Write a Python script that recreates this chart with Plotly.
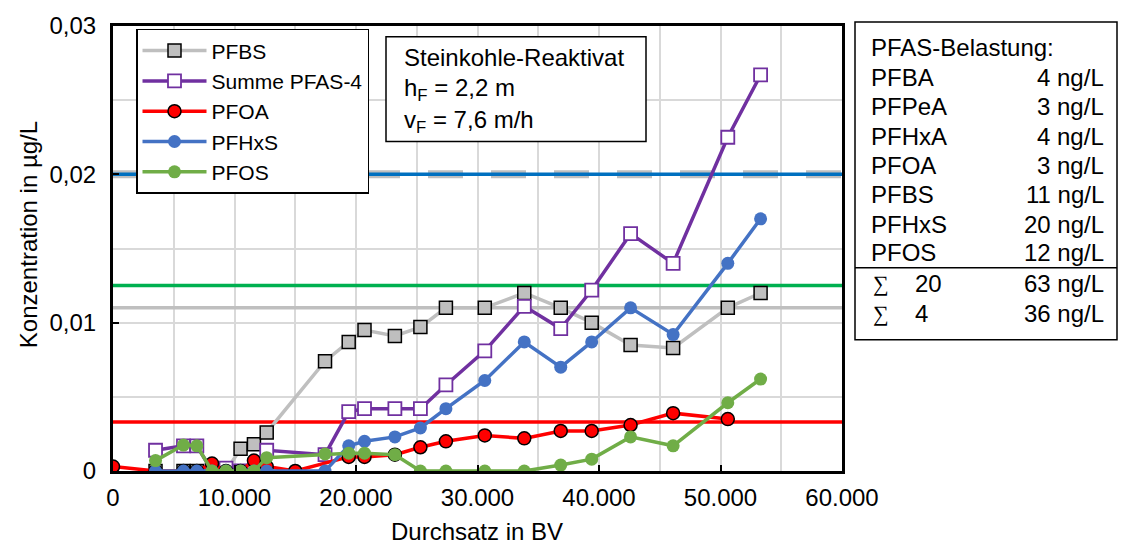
import plotly.graph_objects as go

# ---------------- data ----------------
bv = [0, 3500, 5800, 6900, 8150, 9300, 10500, 11600, 12650, 15000, 17450, 19400, 20700,
      23200, 25300, 27400, 30600, 33850, 36850, 39400, 42600, 46100, 50600, 53300]

pfbs = [None, 0, 0, 0, 0, 0, 0.0015, 0.0018, 0.0026, None, 0.0074, 0.0087, 0.0095,
        0.0091, 0.0097, 0.011, 0.011, 0.012, 0.011, 0.0100, 0.0085, 0.0083, 0.011, 0.012]
summe4 = [None, 0.0014, 0.0017, 0.0017, 0, 0.0002, 0, 0, 0.0014, None, 0.0011, 0.0040, 0.0042,
          0.0042, 0.0042, 0.0058, 0.0081, 0.0111, 0.0096, 0.0122, 0.0160, 0.0140, 0.0225, 0.0267]
pfoa = [0.0003, 0, 0, 0, 0.0005, 0, 0, 0.0007, 0.0003, 0, None, 0.00095, 0.00095,
        0.0011, 0.0016, 0.0020, 0.0024, 0.0022, 0.0027, 0.0027, 0.0031, 0.0039, 0.0035, None]
pfhxs = [None, 0, 0, 0, 0, 0, 0, 0, 0, None, 0, 0.0017, 0.0020,
         0.0023, 0.0029, 0.0042, 0.0061, 0.0087, 0.0070, 0.0087, 0.0110, 0.0092, 0.0140, 0.0170]
pfos = [None, 0.0007, 0.00175, 0.0017, 0, 0, 0, 0, 0.0009, None, 0.00115, 0.0012, 0.0012,
        0.0011, 0, 0, 0, 0, 0.0004, 0.0008, 0.0023, 0.0017, 0.0046, 0.0062]

# reference (inflow) levels, µg/L
ref_x = [0, 60000]
lvl_sum4 = 0.02
lvl_pfhxs = 0.02
lvl_pfos = 0.0125
lvl_pfbs = 0.011
lvl_pfoa = 0.0033

x_tickvals = [0, 10000, 20000, 30000, 40000, 50000, 60000]
x_ticktext = ["0", "10.000", "20.000", "30.000", "40.000", "50.000", "60.000"]
y_tickvals = [0, 0.01, 0.02, 0.03]
y_ticktext = ["0", "0,01", "0,02", "0,03"]

box_names = ["PFBA", "PFPeA", "PFHxA", "PFOA", "PFBS", "PFHxS", "PFOS"]
box_values = ["4 ng/L", "3 ng/L", "4 ng/L", "3 ng/L", "11 ng/L", "20 ng/L", "12 ng/L"]
sum_labels = ["20", "4"]
sum_values = ["63 ng/L", "36 ng/L"]

# ---------------- layout helpers ----------------
W, H = 1121, 546
L, R, T, B = 113, 279, 20, 75
PW, PH = W - L - R, H - T - B


def px(x):
    return (x - L) / PW


def py(y):
    return (H - B - y) / PH


FONT = "Liberation Sans, Arial, sans-serif"

fig = go.Figure()

# reference lines (behind the series)
fig.add_trace(go.Scatter(x=ref_x, y=[lvl_sum4] * 2, mode="lines", showlegend=False, hoverinfo="skip",
                         line=dict(color="#BFBFBF", width=8, dash="35px,28px")))
fig.add_trace(go.Scatter(x=ref_x, y=[lvl_pfhxs] * 2, mode="lines", showlegend=False, hoverinfo="skip",
                         line=dict(color="#0070C0", width=3.5)))
fig.add_trace(go.Scatter(x=ref_x, y=[lvl_pfos] * 2, mode="lines", showlegend=False, hoverinfo="skip",
                         line=dict(color="#00B050", width=3.5)))
fig.add_trace(go.Scatter(x=ref_x, y=[lvl_pfbs] * 2, mode="lines", showlegend=False, hoverinfo="skip",
                         line=dict(color="#BFBFBF", width=3.5)))
fig.add_trace(go.Scatter(x=ref_x, y=[lvl_pfoa] * 2, mode="lines", showlegend=False, hoverinfo="skip",
                         line=dict(color="#FF0000", width=3.5)))

# series
fig.add_trace(go.Scatter(x=bv, y=pfbs, name="PFBS", mode="lines+markers", connectgaps=True,
                         line=dict(color="#BFBFBF", width=3.5),
                         marker=dict(symbol="square", size=13, color="#BFBFBF",
                                     line=dict(color="black", width=1.5))))
fig.add_trace(go.Scatter(x=bv, y=summe4, name="Summe PFAS-4", mode="lines+markers", connectgaps=True,
                         line=dict(color="#7030A0", width=3.5),
                         marker=dict(symbol="square", size=13, color="white",
                                     line=dict(color="#7030A0", width=1.8))))
fig.add_trace(go.Scatter(x=bv, y=pfoa, name="PFOA", mode="lines+markers", connectgaps=True,
                         line=dict(color="#FF0000", width=3.5),
                         marker=dict(symbol="circle", size=13, color="#FF0000",
                                     line=dict(color="black", width=1.5))))
fig.add_trace(go.Scatter(x=bv, y=pfhxs, name="PFHxS", mode="lines+markers", connectgaps=True,
                         line=dict(color="#4472C4", width=3.5),
                         marker=dict(symbol="circle", size=13, color="#4472C4",
                                     line=dict(color="#4472C4", width=0))))
fig.add_trace(go.Scatter(x=bv, y=pfos, name="PFOS", mode="lines+markers", connectgaps=True,
                         line=dict(color="#70AD47", width=3.5),
                         marker=dict(symbol="circle", size=13, color="#70AD47",
                                     line=dict(color="#70AD47", width=0))))

grid = "#D9D9D9"
fig.update_layout(
    width=W, height=H,
    margin=dict(l=L, r=R, t=T, b=B),
    paper_bgcolor="white", plot_bgcolor="white",
    font=dict(family=FONT, size=24, color="black"),
    separators=",.",
    showlegend=True,
    legend=dict(x=px(136), y=py(23), xanchor="left", yanchor="top",
                bgcolor="white", bordercolor="black", borderwidth=1.5,
                font=dict(size=21, family=FONT), itemwidth=64,
                tracegroupgap=0),
    xaxis=dict(range=[0, 60000], tickvals=x_tickvals, ticktext=x_ticktext,
               showgrid=True, gridcolor=grid, gridwidth=1.5,
               minor=dict(dtick=5000, tick0=0, showgrid=True, gridcolor=grid, gridwidth=1.5),
               showline=True, linecolor="black", linewidth=3, mirror=True,
               ticks="inside", ticklen=6, tickwidth=2, tickcolor="black",
               tickfont=dict(size=24), zeroline=False, ticklabelstandoff=3, fixedrange=True),
    yaxis=dict(range=[0, 0.03], tickvals=y_tickvals, ticktext=y_ticktext,
               showgrid=True, gridcolor=grid, gridwidth=1.5,
               minor=dict(dtick=0.005, tick0=0, showgrid=True, gridcolor=grid, gridwidth=1.5),
               showline=True, linecolor="black", linewidth=3, mirror=True,
               ticks="inside", ticklen=6, tickwidth=2, tickcolor="black",
               tickfont=dict(size=24), zeroline=False, ticklabelstandoff=9, fixedrange=True),
)

annotations = []
shapes = []

# axis titles
annotations.append(dict(xref="paper", yref="paper", x=px(477), y=py(532), text="Durchsatz in BV",
                        showarrow=False, xanchor="center", yanchor="middle", font=dict(size=24)))
annotations.append(dict(xref="paper", yref="paper", x=px(28), y=py(232), text="Konzentration in µg/L",
                        showarrow=False, xanchor="center", yanchor="middle", textangle=-90,
                        font=dict(size=24)))

# info box (filter data)
shapes.append(dict(type="rect", xref="paper", yref="paper", x0=px(386), x1=px(646), y0=py(137), y1=py(31),
                   line=dict(color="black", width=1.5), fillcolor="white", layer="above"))
info_lines = ["Steinkohle-Reaktivat", "h<sub>F</sub> = 2,2 m", "v<sub>F</sub> = 7,6 m/h"]
for i, t in enumerate(info_lines):
    annotations.append(dict(xref="paper", yref="paper", x=px(402), y=py(52 + 32.5 * i), text=t,
                            showarrow=False, xanchor="left", yanchor="middle", font=dict(size=24)))

# PFAS load box (right)
shapes.append(dict(type="rect", xref="paper", yref="paper", x0=px(855), x1=px(1117), y0=py(338), y1=py(16),
                   line=dict(color="black", width=1.5), fillcolor="white", layer="above"))
shapes.append(dict(type="line", xref="paper", yref="paper", x0=px(855), x1=px(1117), y0=py(265), y1=py(265),
                   line=dict(color="black", width=1.5), layer="above"))
annotations.append(dict(xref="paper", yref="paper", x=px(869), y=py(42), text="PFAS-Belastung:",
                        showarrow=False, xanchor="left", yanchor="middle", font=dict(size=24)))
rows_y = [72, 102, 132, 161, 191, 221, 250]
for n, v, yy in zip(box_names, box_values, rows_y):
    annotations.append(dict(xref="paper", yref="paper", x=px(869), y=py(yy), text=n,
                            showarrow=False, xanchor="left", yanchor="middle", font=dict(size=24)))
    annotations.append(dict(xref="paper", yref="paper", x=px(1106), y=py(yy), text=v,
                            showarrow=False, xanchor="right", yanchor="middle", font=dict(size=24)))
for lab, v, yy in zip(sum_labels, sum_values, [281, 311]):
    annotations.append(dict(xref="paper", yref="paper", x=px(871), y=py(yy), text="∑",
                            showarrow=False, xanchor="left", yanchor="middle",
                            font=dict(size=22, family="Liberation Serif, DejaVu Serif, serif")))
    annotations.append(dict(xref="paper", yref="paper", x=px(913), y=py(yy), text=lab,
                            showarrow=False, xanchor="left", yanchor="middle", font=dict(size=24)))
    annotations.append(dict(xref="paper", yref="paper", x=px(1106), y=py(yy), text=v,
                            showarrow=False, xanchor="right", yanchor="middle", font=dict(size=24)))

fig.update_layout(annotations=annotations, shapes=shapes)

fig.write_html("out.html", config={"displayModeBar": False},
               post_script="document.body.style.margin='0';document.body.style.padding='0';")
